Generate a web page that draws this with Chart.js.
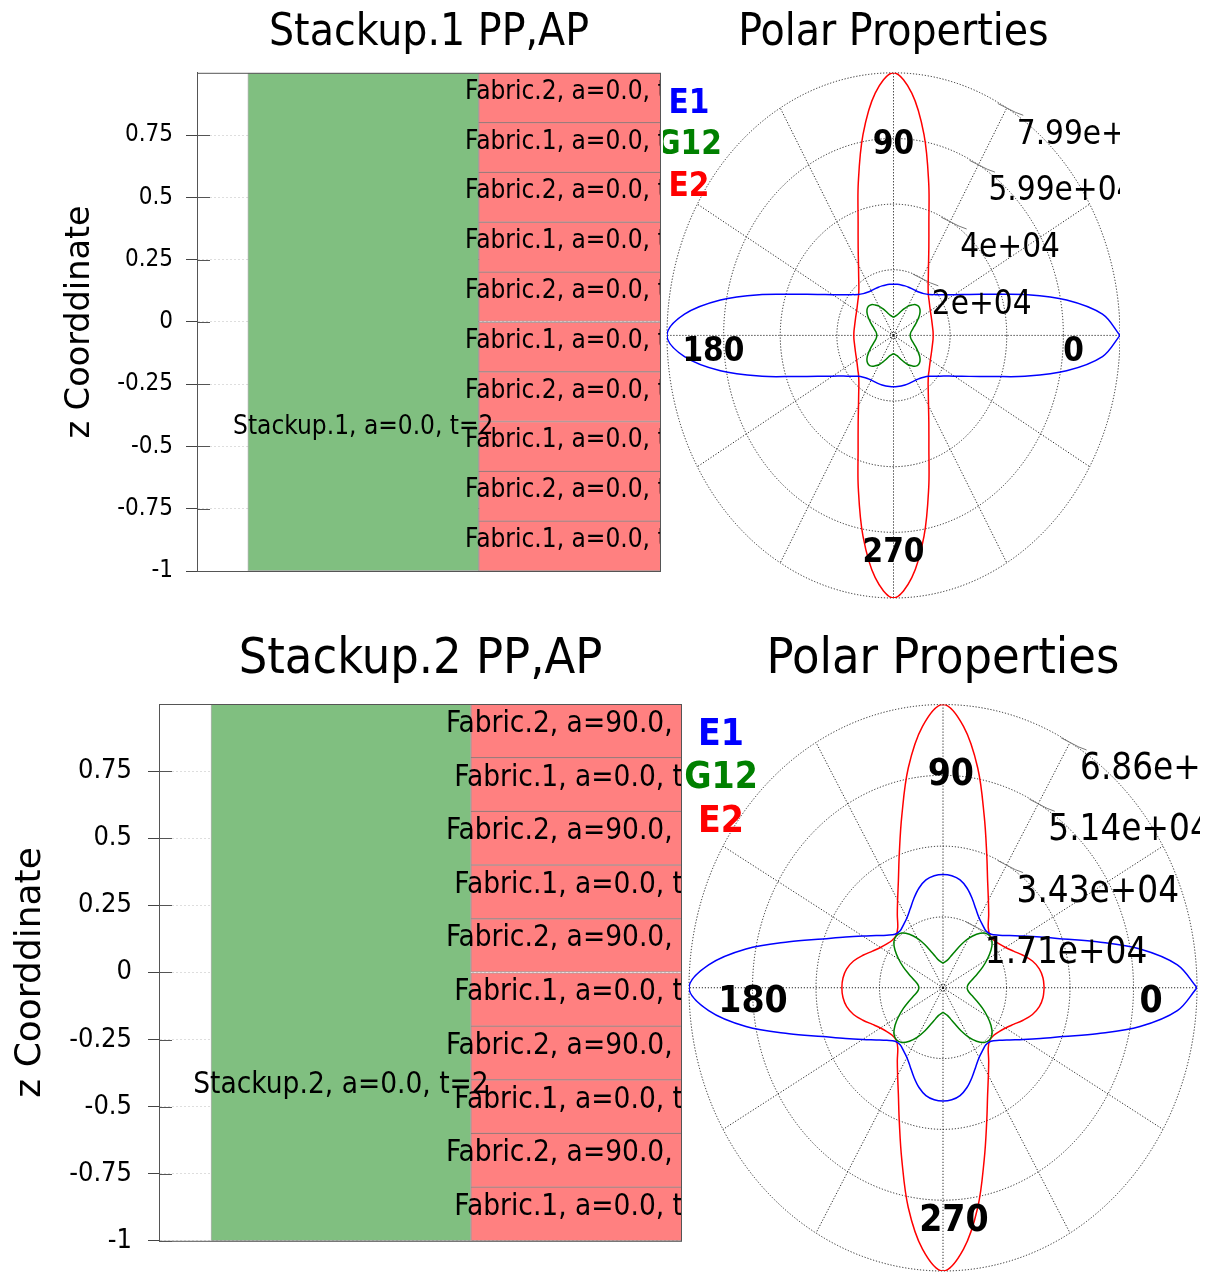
<!DOCTYPE html>
<html>
<head>
<meta charset="utf-8">
<script src="https://cdn.jsdelivr.net/npm/chart.js@4.4.1/dist/chart.umd.min.js"></script>
<style>
  body { margin: 0; background: #fff; width: 1219px; height: 1273px; position: relative; overflow: hidden; }
  canvas { position: absolute; }
</style>
</head>
<body>
<canvas id="stack1" width="663" height="600" style="left:0;top:0"></canvas>
<canvas id="polar1" width="457" height="620" style="left:663px;top:0"></canvas>
<canvas id="stack2" width="684" height="653" style="left:0;top:620px"></canvas>
<canvas id="polar2" width="516" height="653" style="left:684px;top:620px"></canvas>
<script>
// ---- stackup data ----
const zTicks = [-1, -0.75, -0.5, -0.25, 0, 0.25, 0.5, 0.75];
const plyBounds = [-1, -0.8, -0.6, -0.4, -0.2, 0, 0.2, 0.4, 0.6, 0.8, 1];   // bottom -> top
const plyThick = [0.2, 0.2, 0.2, 0.2, 0.2, 0.2, 0.2, 0.2, 0.2, 0.2];

const stack1Name = 'Stackup.1';
const stack1Range = [-1, 1];
const plies1Names = ['Fabric.1', 'Fabric.2', 'Fabric.1', 'Fabric.2', 'Fabric.1', 'Fabric.2', 'Fabric.1', 'Fabric.2', 'Fabric.1', 'Fabric.2'];
const plies1Angles = [0, 0, 0, 0, 0, 0, 0, 0, 0, 0];

const stack2Name = 'Stackup.2';
const stack2Range = [-1, 1];
const plies2Names = ['Fabric.1', 'Fabric.2', 'Fabric.1', 'Fabric.2', 'Fabric.1', 'Fabric.2', 'Fabric.1', 'Fabric.2', 'Fabric.1', 'Fabric.2'];
const plies2Angles = [0, 90, 0, 90, 0, 90, 0, 90, 0, 90];

// ---- polar data: values at 0..90 deg, curves are mirror symmetric in both axes ----
const anglesDeg = [0, 5, 10, 15, 20, 25, 30, 35, 40, 45, 50, 55, 60, 65, 70, 75, 80, 85, 90];
const angleLabels = ['0', '90', '180', '270'];

const e1Polar1  = [79900, 74000, 62000, 48000, 36500, 29500, 24800, 21600, 19300, 17600, 16600, 16000, 15700, 15600, 15600, 15600, 15600, 15600, 15600];
const g12Polar1 = [5900, 6000, 6300, 6900, 7700, 8800, 10000, 11300, 12200, 12500, 12200, 11300, 10300, 9000, 7800, 6800, 6200, 5800, 5600];
const e2Polar1  = [14000, 14000, 14000, 14100, 14300, 14600, 15000, 15600, 16400, 17400, 19000, 21400, 24700, 29500, 36500, 48000, 62000, 74000, 79900];
const rings1 = [19975, 39950, 59925, 79900];
const ringLabels1 = ['2e+04', '4e+04', '5.99e+04', '7.99e+04'];

const e1Polar2  = [68560, 63500, 54000, 43000, 34500, 29000, 25000, 22000, 19800, 18300, 18000, 18600, 19500, 21000, 23000, 25000, 26500, 27200, 27400];
const g12Polar2 = [6500, 6700, 7300, 8400, 9900, 11800, 13800, 15800, 17300, 17800, 17300, 15800, 13800, 11500, 9300, 7800, 6800, 6300, 6000];
const e2Polar2  = [27300, 27100, 26400, 25000, 23000, 21000, 19500, 18500, 17900, 17900, 19000, 21500, 24500, 28500, 34500, 43000, 54000, 63500, 68560];
const rings2 = [17140, 34280, 51420, 68560];
const ringLabels2 = ['1.71e+04', '3.43e+04', '5.14e+04', '6.86e+04'];

const COND = '"DejaVu Sans Condensed", "DejaVu Sans", sans-serif';
const PLAIN = '"DejaVu Sans", sans-serif';

// ---------- stackup chart ----------
function stackChart(id, o) {
  const plyLabels = o.names.map((n, i) => n + ', a=' + o.angles[i].toFixed(1) + ', t=' + plyThick[i]);
  const plyData = o.names.map((n, i) => ({x: 1, y: [plyBounds[i], plyBounds[i + 1]]}));

  const stackPlugin = {
    id: 'stackLabels',
    afterDatasetsDraw(chart) {
      const ctx = chart.ctx, a = chart.chartArea, ys = chart.scales.y;
      ctx.save();
      ctx.beginPath();
      ctx.rect(a.left, a.top, a.right - a.left, a.bottom - a.top);
      ctx.clip();
      ctx.font = o.fLabel + 'px ' + COND;
      ctx.fillStyle = '#000';
      ctx.textAlign = 'center';
      ctx.textBaseline = 'alphabetic';
      chart.getDatasetMeta(1).data.forEach((bar, i) => {
        ctx.fillText(plyLabels[i], bar.x, (bar.y + bar.base) / 2 + 1);
      });
      ctx.restore();
      ctx.save();
      ctx.font = o.fLabel + 'px ' + COND;
      ctx.fillStyle = '#000';
      ctx.textAlign = 'center';
      const g = chart.getDatasetMeta(0).data[0];
      ctx.fillText(o.name + ', a=0.0, t=2', g.x, ys.getPixelForValue(-0.45));
      // frame + inner tick marks
      ctx.strokeStyle = '#555';
      ctx.lineWidth = 1;
      ctx.strokeRect(a.left + 0.5, a.top + 0.5, a.right - a.left - 1, a.bottom - a.top);
      ctx.beginPath();
      zTicks.forEach(v => {
        const py = Math.round(ys.getPixelForValue(v)) + 0.5;
        ctx.moveTo(a.left, py);
        ctx.lineTo(a.left + 13, py);
      });
      ctx.stroke();
      ctx.restore();
    }
  };

  return new Chart(document.getElementById(id), {
    type: 'bar',
    data: {
      datasets: [
        {label: o.name, data: [{x: 0, y: o.range}], backgroundColor: '#80bf80',
         borderColor: 'rgba(0,0,0,0.3)', borderWidth: 1, borderSkipped: false,
         grouped: false, barPercentage: 1, categoryPercentage: 1},
        {label: 'plies', data: plyData, backgroundColor: '#ff8080',
         borderColor: 'rgba(90,30,30,0.45)', borderWidth: 1, borderSkipped: false,
         grouped: false, barPercentage: 1, categoryPercentage: 1}
      ]
    },
    options: {
      responsive: false,
      animation: false,
      layout: {padding: {left: 0, right: 2, top: 0, bottom: o.padBottom}},
      plugins: {
        legend: {display: false},
        tooltip: {enabled: false},
        title: {display: true, text: o.name + ' PP,AP', fullSize: false, color: '#000',
                font: {family: COND, size: o.fTitle, weight: 'normal'}, padding: o.titlePad}
      },
      scales: {
        x: {type: 'linear', display: false, offset: false, min: o.xMin, max: o.xMax,
            afterBuildTicks: s => { s.ticks = [{value: 0}, {value: 1}]; }},
        y: {min: -1, max: 1,
            afterBuildTicks: s => { s.ticks = zTicks.map(v => ({value: v})); },
            afterFit: s => { s.width = o.axisWidth; },
            ticks: {color: '#000', padding: o.tickPad, font: {family: COND, size: o.fTick},
                    callback: v => String(v)},
            grid: {color: 'rgba(0,0,0,0.13)', tickColor: '#444', tickLength: 11},
            border: {display: true, color: '#555', dash: [2, 2]},
            title: {display: true, text: 'z Coorddinate', color: '#000',
                    font: {family: PLAIN, size: o.fAxis}, padding: {top: o.yTitlePad, bottom: 0}}}
      }
    },
    plugins: [stackPlugin]
  });
}

stackChart('stack1', {name: stack1Name, range: stack1Range, names: plies1Names, angles: plies1Angles,
  xMin: -0.72, xMax: 1.289, axisWidth: 197, yTitlePad: 60, padBottom: 29, titlePad: {top: 7, bottom: 13},
  fTitle: 44, fTick: 24, fLabel: 26, fAxis: 33.5, tickPad: 13});
stackChart('stack2', {name: stack2Name, range: stack2Range, names: plies2Names, angles: plies2Angles,
  xMin: -0.7, xMax: 1.312, axisWidth: 159, yTitlePad: 9, padBottom: 31, titlePad: {top: 10, bottom: 14},
  fTitle: 50, fTick: 27, fLabel: 29.5, fAxis: 36, tickPad: 16});

// ---------- polar chart ----------
function loop(quarter) {
  const pts = [];
  for (let k = 0; k <= 72; k++) {
    const deg = k * 5;
    const q = deg % 180;
    const idx = anglesDeg.indexOf(q <= 90 ? q : 180 - q);
    const r = quarter[idx];
    const t = deg * Math.PI / 180;
    pts.push({x: r * Math.cos(t), y: r * Math.sin(t)});
  }
  return pts;
}

function polarChart(id, o) {
  const R = o.rings[o.rings.length - 1];
  const gridPlugin = {
    id: 'polarGrid',
    beforeDatasetsDraw(chart) {
      const ctx = chart.ctx, xs = chart.scales.x, ys = chart.scales.y;
      const cx = xs.getPixelForValue(0), cy = ys.getPixelForValue(0);
      ctx.save();
      ctx.strokeStyle = 'rgba(0,0,0,0.85)';
      ctx.lineWidth = 1;
      ctx.setLineDash([1.2, 1.8]);
      o.rings.forEach(v => {
        ctx.beginPath();
        ctx.ellipse(cx, cy, xs.getPixelForValue(v) - cx, cy - ys.getPixelForValue(v), 0, 0, Math.PI * 2);
        ctx.stroke();
      });
      for (let d = 0; d < 360; d += 30) {
        const t = d * Math.PI / 180;
        ctx.beginPath();
        ctx.moveTo(cx, cy);
        ctx.lineTo(xs.getPixelForValue(R * Math.cos(t)), ys.getPixelForValue(R * Math.sin(t)));
        ctx.stroke();
      }
      ctx.beginPath();
      ctx.arc(cx, cy, 3, 0, Math.PI * 2);
      ctx.stroke();
      // ticks on the 60 deg spoke
      ctx.setLineDash([]);
      ctx.strokeStyle = '#777';
      const t60 = Math.PI / 3;
      o.rings.forEach(v => {
        const px = xs.getPixelForValue(v * Math.cos(t60)), py = ys.getPixelForValue(v * Math.sin(t60));
        const len = Math.hypot(px - cx, py - cy);
        const ux = (px - cx) / len, uy = (py - cy) / len;
        const nx = -uy, ny = ux;
        ctx.beginPath();
        ctx.moveTo(px - 10 * nx, py - 10 * ny);
        ctx.lineTo(px + 10 * nx, py + 10 * ny);
        ctx.moveTo(px + 10 * nx, py + 10 * ny);
        ctx.lineTo(px + 10 * nx + 8 * ux + 4, py + 10 * ny + 8 * uy + 10);
        ctx.stroke();
      });
      ctx.restore();
    },
    afterDraw(chart) {
      const ctx = chart.ctx, xs = chart.scales.x, ys = chart.scales.y;
      ctx.save();
      ctx.fillStyle = '#000';
      ctx.font = 'bold ' + o.fAngle + 'px ' + COND;
      ctx.textAlign = 'center';
      ctx.textBaseline = 'middle';
      angleLabels.forEach((lab, i) => {
        const p = o.angleLabelPos[i];
        ctx.fillText(lab, xs.getPixelForValue(p[0] * R), ys.getPixelForValue(p[1] * R));
      });
      ctx.font = o.fRing + 'px ' + COND;
      ctx.textAlign = 'left';
      const t60 = Math.PI / 3;
      o.rings.forEach((v, i) => {
        const px = xs.getPixelForValue(v * Math.cos(t60)), py = ys.getPixelForValue(v * Math.sin(t60));
        ctx.fillText(o.ringLabels[i], px + 10, py + 27);
      });
      ctx.font = 'bold ' + o.fAngle + 'px ' + COND;
      ctx.textAlign = 'center';
      chart.data.datasets.forEach((ds, i) => {
        ctx.fillStyle = ds.borderColor;
        ctx.fillText(ds.label, o.legendX, o.legendY + i * o.legendGap);
      });
      ctx.restore();
    }
  };

  const line = (label, vals, color) => ({
    label, data: loop(vals), showLine: true, borderColor: color, backgroundColor: color,
    borderWidth: 1.5, pointRadius: 0, tension: 0.35, fill: false
  });

  return new Chart(document.getElementById(id), {
    type: 'scatter',
    data: {
      datasets: [
        line('E1', o.e1, '#0000ff'),
        line('G12', o.g12, '#008000'),
        line('E2', o.e2, '#ff0000')
      ]
    },
    options: {
      responsive: false,
      animation: false,
      layout: {padding: o.pad},
      plugins: {
        legend: {display: false},
        tooltip: {enabled: false},
        title: {display: true, text: 'Polar Properties', fullSize: false, color: '#000',
                font: {family: COND, size: o.fTitle, weight: 'normal'}, padding: o.titlePad}
      },
      scales: {
        x: {type: 'linear', display: false, min: -R, max: R},
        y: {type: 'linear', display: false, min: -R, max: R}
      }
    },
    plugins: [gridPlugin]
  });
}

polarChart('polar1', {
  e1: e1Polar1, g12: g12Polar1, e2: e2Polar1, rings: rings1, ringLabels: ringLabels1,
  pad: {left: 4, right: 0, top: 0, bottom: 22}, titlePad: {top: 7, bottom: 13},
  fTitle: 44, fAngle: 33, fRing: 33,
  angleLabelPos: [[0.795, -0.063], [0, 0.722], [-0.795, -0.063], [0, -0.829]],
  legendX: 26, legendY: 104, legendGap: 41.5
});
polarChart('polar2', {
  e1: e1Polar2, g12: g12Polar2, e2: e2Polar2, rings: rings2, ringLabels: ringLabels2,
  pad: {left: 5, right: 3, top: 0, bottom: 2}, titlePad: {top: 10, bottom: 14.5},
  fTitle: 50, fAngle: 37, fRing: 36.5,
  angleLabelPos: [[0.819, -0.053], [0.031, 0.751], [-0.748, -0.053], [0.043, -0.825]],
  legendX: 37, legendY: 115, legendGap: 43.5
});
</script>
</body>
</html>
